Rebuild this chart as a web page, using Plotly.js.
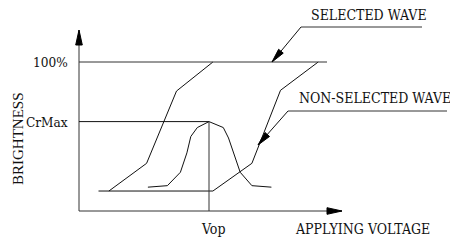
<!DOCTYPE html>
<html>
<head>
<meta charset="utf-8">
<script src="https://cdn.plot.ly/plotly-3.0.1.min.js"></script>
<style>html,body{margin:0;padding:0;background:#fff;}#chart{width:450px;height:245px;}</style>
</head>
<body>
<div id="chart"></div>
<script>
// ---- data (voltage in arbitrary units, Vop = 10; brightness in %) ----
const selectedVoltage = [2.3, 5.2, 7.5, 10.3];
const selectedBright  = [13.4, 32, 80.5, 100];
const nonSelVoltage   = [1.5, 10.3, 13.3, 15.5, 18.4];
const nonSelBright    = [13.4, 13.4, 32, 81, 100];
const contrastVoltage = [5.3, 6.8, 7.8, 8.3, 8.6, 9.1, 10, 11.1, 11.5, 11.9, 12.4, 13.3, 14.8];
const contrastBright  = [16, 17, 26, 39, 50, 56, 60, 56, 49, 39, 26, 17, 16];
const VOP = 10, CRMAX = 60, FULL = 100;
const yTickVals = [CRMAX, FULL];
const yTickText = ['CrMax', '100%'];
const xTickVals = [VOP];
const xTickText = ['Vop'];

// ---- layout geometry (axis origin at pixel 79,211) ----
const W = 450, H = 245, OX = 79, OY = 211;
const PXX = 13, PXY = 1.49;           // pixels per unit
const px2x = p => (p - OX) / PXX;
const py2y = p => (OY - p) / PXY;

const lineC = '#111';
const cad = 'DejaVu Serif Condensed, DejaVu Serif, serif';

const traces = [
  {x: selectedVoltage, y: selectedBright, mode: 'lines', line: {color: lineC, width: 1}},
  {x: nonSelVoltage, y: nonSelBright, mode: 'lines', line: {color: lineC, width: 1}},
  {x: contrastVoltage, y: contrastBright, mode: 'lines', line: {color: lineC, width: 1}}
];

const shapes = [];
function seg(x0, y0, x1, y1, c) {
  shapes.push({type: 'line', xref: 'x', yref: 'y', x0, y0, x1, y1, line: {color: c || '#333', width: 1}});
}
// arrowhead: tip at data (tx,ty), direction (dx,dy) in screen px (y down)
function head(tx, ty, dx, dy, len, hw) {
  const n = Math.hypot(dx, dy), ux = dx / n, uy = dy / n;
  const bx = -ux * len, by = -uy * len, qx = -uy * hw, qy = ux * hw;
  const offs = [[0, 0], [bx + qx, by + qy], [bx - qx, by - qy]];
  const pts = offs.map(o => (tx + o[0] / PXX).toFixed(4) + ',' + (ty - o[1] / PXY).toFixed(4));
  shapes.push({type: 'path', xref: 'x', yref: 'y', path: 'M' + pts[0] + 'L' + pts[1] + 'L' + pts[2] + 'Z',
    fillcolor: '#000', layer: 'above', line: {color: '#000', width: 1}});
}
// axes
const yTop = py2y(30), xEnd = px2x(342);
seg(0, 0, 0, yTop, '#333');
seg(0, 0, xEnd, 0, '#333');
head(0, yTop, 0, -1, 15, 3.3);
head(xEnd, 0, 1, 0, 15, 3.3);
// reference lines
seg(0, FULL, px2x(327), FULL, '#333');
seg(0, CRMAX, VOP, CRMAX, '#111');
seg(VOP, 0, VOP, CRMAX, '#333');
// leaders
const s1 = {tip: [px2x(272), FULL], c: [px2x(301), py2y(27)], e: px2x(422)};
seg(s1.tip[0], s1.tip[1], s1.c[0], s1.c[1], '#111');
seg(s1.c[0], s1.c[1], s1.e, s1.c[1], '#333');
head(s1.tip[0], s1.tip[1], -29, 35, 14, 3);
const s2 = {tip: [px2x(258), py2y(145)], c: [px2x(288), py2y(111)], e: px2x(447)};
seg(s2.tip[0], s2.tip[1], s2.c[0], s2.c[1], '#111');
seg(s2.c[0], s2.c[1], s2.e, s2.c[1], '#333');
head(s2.tip[0], s2.tip[1], -30, 34, 14, 3);

const annFont = {family: cad, size: 14, color: '#111'};
const annotations = [
  {text: 'SELECTED WAVE', x: px2x(368.5), y: py2y(15), showarrow: false, font: annFont},
  {text: 'NON-SELECTED WAVE', x: px2x(375), y: py2y(98), showarrow: false, font: annFont},
  {text: 'APPLYING VOLTAGE', x: px2x(362.5), y: py2y(229), showarrow: false, font: annFont},
  {text: 'BRIGHTNESS', x: px2x(18), y: py2y(139), showarrow: false, textangle: -90,
   font: {family: 'Liberation Serif, serif', size: 15, color: '#111'}}
];
yTickVals.forEach((v, i) => annotations.push({text: yTickText[i], x: px2x(70), y: v, xanchor: 'right',
  showarrow: false, font: {family: cad, size: 13.5, color: '#111'}}));
xTickVals.forEach((v, i) => annotations.push({text: xTickText[i], x: v + 0.3, y: py2y(229),
  showarrow: false, font: annFont}));
annotations.forEach(a => { a.xref = 'x'; a.yref = 'y'; });

const axBase = {showgrid: false, zeroline: false, showline: false, showticklabels: false, ticks: '', fixedrange: true};
const layout = {
  width: W, height: H,
  margin: {l: 0, r: 0, t: 0, b: 0, pad: 0},
  paper_bgcolor: '#fff', plot_bgcolor: '#fff',
  showlegend: false,
  xaxis: Object.assign({range: [px2x(0), px2x(W)]}, axBase),
  yaxis: Object.assign({range: [py2y(H), py2y(0)]}, axBase),
  shapes, annotations
};
Plotly.newPlot('chart', traces, layout, {staticPlot: true, displayModeBar: false});
</script>
</body>
</html>
